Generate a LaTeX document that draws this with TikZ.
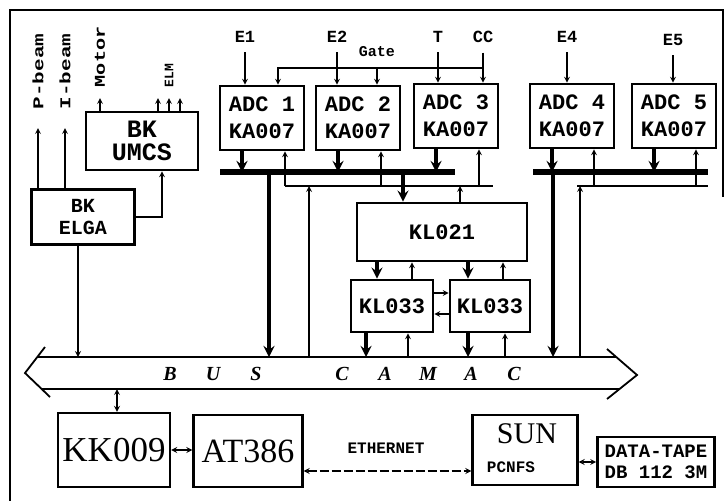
\documentclass[tikz,border=0pt]{standalone}
\usepackage{fontspec}
\setmainfont{Liberation Serif}
\setmonofont{Liberation Mono}
\usepackage{graphicx}
\begin{document}
\begin{tikzpicture}[x=1pt, y=-1pt,
	>=stealth,
	every path/.style={line width=1.6pt},
	unit/.style={draw, line width=2.6pt, inner sep=0, align=center,
		font=\ttfamily\bfseries\fontsize{22}{27}\selectfont},
	adc/.style={unit, minimum width=84pt, minimum height=64pt},
	pc/.style={draw, line width=2.4pt, inner sep=0,
		font=\fontsize{35}{35}\selectfont},
	lab/.style={inner sep=1pt, font=\ttfamily\bfseries\fontsize{17}{17}\selectfont},
	side/.style={inner sep=0, font=\ttfamily\bfseries\fontsize{15}{15}\selectfont},
	sig/.style={line width=1.6pt},
	fat/.style={line width=3.8pt},
	bar/.style={line width=5.5pt}]
	\useasboundingbox (0,0) rectangle (724,501);
	% frame
	\draw[line width=1.8pt] (10,501) -- (10,10) -- (723,10) -- (723,197);

	% beam control
	\node[unit, minimum width=103pt, minimum height=55pt,
		font=\ttfamily\bfseries\fontsize{20}{22}\selectfont] (elga) at (83,217) {BK\\ELGA};
	\node[unit, minimum width=112pt, minimum height=58pt,
		font=\ttfamily\bfseries\fontsize{25}{23}\selectfont] (umcs) at (142,141) {BK\\UMCS};
	\node[side, rotate=90, anchor=west] (pbeam) at (38,110) {\scalebox{1.4}[1]{P-beam}};
	\node[side, rotate=90, anchor=west] (ibeam) at (65,110) {\scalebox{1.4}[1]{I-beam}};
	\node[side, rotate=90, anchor=west] (motor) at (100,88) {\scalebox{1.35}[1]{Motor}};
	\node[side, rotate=90, anchor=west,
		font=\ttfamily\bfseries\fontsize{13}{13}\selectfont] (elm) at (169,88) {ELM};
	\coordinate (elmfoot) at (elm.west |- umcs.north);
	\draw[sig,->] (elga.north -| pbeam.west) -- ([yshift=-18pt]pbeam.west);
	\draw[sig,->] (elga.north -| ibeam.west) -- ([yshift=-18pt]ibeam.west);
	\draw[sig,->] (umcs.north -| motor.west) -- ([yshift=-10pt]motor.west);
	\foreach \dx in {-11,0,11}
		\draw[sig,->] ([xshift=\dx pt]elmfoot) -- ([xshift=\dx pt, yshift=-10pt]elm.west);
	\draw[sig,->] (elga.east) -| ([xshift=20pt]umcs.south);

	% ADC crate
	\node[adc] (adc1) at (262,118) {ADC 1\\KA007};
	\node[adc] (adc2) at (358,118) {ADC 2\\KA007};
	\node[adc] (adc3) at (456,116) {ADC 3\\KA007};
	\node[adc] (adc4) at (572,116) {ADC 4\\KA007};
	\node[adc] (adc5) at (674,116) {ADC 5\\KA007};
	\node[lab] (e1) at (245,37) {E1};
	\node[lab] (e2) at (337,37) {E2};
	\node[lab] (t) at (438,37) {T};
	\node[lab] (cc) at (483,37) {CC};
	\node[lab] (e4) at (567,37) {E4};
	\node[lab] (e5) at (673,40) {E5};
	\node[side] (gate) at (377,52) {Gate};
	\foreach \s/\d in {e1/adc1, e2/adc2, t/adc3, cc/adc3, e4/adc4, e5/adc5}
		\draw[sig,->] ([yshift=-8pt]\s.south) -- (\s.south |- \d.north);
	\coordinate (gatebus) at (483,68);
	\draw[sig,->] (gatebus) -| ([xshift=16pt]adc1.north);
	\draw[sig,->] (gatebus -| gate) -- (gate |- adc2.north);

	\coordinate (barA) at (220,172);
	\coordinate (barAe) at (455,172);
	\coordinate (lineA) at (285,186);
	\coordinate (lineAe) at (493,186);
	\coordinate (barB) at (533,172);
	\coordinate (barBe) at (708,172);
	\coordinate (lineB) at (577,186);
	\coordinate (lineBe) at (708,186);
	\coordinate (tapA) at (269,172);
	\coordinate (tapA2) at (309,186);
	\coordinate (tapB) at (553,172);
	\coordinate (tapB2) at (580,186);
	\coordinate (busT) at (330,357);
	\coordinate (busB) at (330,389);
	\draw[bar] (barA) -- (barAe);
	\draw[sig] (lineA) -- (lineAe);
	\draw[bar] (barB) -- (barBe);
	\draw[sig] (lineB) -- (lineBe);
	\foreach \a in {adc1,adc2,adc3} {
		\draw[fat,->] ([xshift=-20pt]\a.south) -- ([xshift=-20pt]\a.south |- barA);
		\draw[sig,->] ([xshift=23pt]\a.south |- lineA) -- ([xshift=23pt]\a.south);
	}
	\foreach \a in {adc4,adc5} {
		\draw[fat,->] ([xshift=-20pt]\a.south) -- ([xshift=-20pt]\a.south |- barB);
		\draw[sig,->] ([xshift=22pt]\a.south |- lineB) -- ([xshift=22pt]\a.south);
	}
	\draw[fat,->] (tapA) -- (tapA |- busT);
	\draw[sig,->] (tapA2 |- busT) -- (tapA2);
	\draw[fat,->] (tapB) -- (tapB |- busT);
	\draw[sig,->] (tapB2 |- busT) -- (tapB2);

	% list processor
	\node[unit, minimum width=170pt, minimum height=58pt] (kl021) at (442,232) {KL021};
	\node[unit, minimum width=82pt, minimum height=52pt] (kl033a) at (392,306) {KL033};
	\node[unit, minimum width=80pt, minimum height=52pt] (kl033b) at (490,306) {KL033};
	\draw[fat,->] ([xshift=-39pt]kl021.north |- barA) -- ([xshift=-39pt]kl021.north);
	\draw[sig,->] ([xshift=18pt]kl021.north) -- ([xshift=18pt]kl021.north |- lineA);
	\foreach \k/\l/\r in {kl033a/-15/20, kl033b/-22/13} {
		\draw[fat,->] ([xshift=\l pt]\k.north |- kl021.south) -- ([xshift=\l pt]\k.north);
		\draw[sig,->] ([xshift=\r pt]\k.north) -- ([xshift=\r pt]\k.north |- kl021.south);
	}
	\foreach \k/\l/\r in {kl033a/-26/16, kl033b/-22/15} {
		\draw[fat,->] ([xshift=\l pt]\k.south) -- ([xshift=\l pt]\k.south |- busT);
		\draw[sig,->] ([xshift=\r pt]\k.south |- busT) -- ([xshift=\r pt]\k.south);
	}
	\draw[sig,->] ([yshift=13pt]kl033a.east) -- ([yshift=13pt]kl033a.east -| kl033b.west);
	\draw[sig,->] ([yshift=-8pt]kl033a.east -| kl033b.west) -- ([yshift=-8pt]kl033a.east);

	% bus
	\draw[line width=1.8pt] (45,347) -- (25,373) -- (50,397);
	\draw[line width=1.8pt] (607,349) -- (637,375) -- (607,399);
	\draw[line width=1.8pt] (37,357) -- (616,357);
	\draw[line width=1.8pt] (42,389) -- (619,389);
	\node[inner sep=0, font=\bfseries\itshape\fontsize{20}{20}\selectfont] (busname) at (342,374)
		{\makebox[43pt]{B}\makebox[43pt]{U}\makebox[43pt]{S}\makebox[43pt]{}\makebox[43pt]{C}%
		\makebox[43pt]{A}\makebox[43pt]{M}\makebox[43pt]{A}\makebox[43pt]{C}};
	\draw[sig,->] ([xshift=-5pt]elga.south) -- ([xshift=-5pt]elga.south |- busT);

	% computers
	\node[pc, minimum width=112pt, minimum height=74pt] (kk009) at (114,450) {KK009};
	\node[pc, minimum width=109pt, minimum height=72pt,
		font=\fontsize{34}{34}\selectfont] (at386) at (248,451) {AT386};
	\node[pc, minimum width=105pt, minimum height=70pt] (sun) at (525,450) {};
	\node[inner sep=0, font=\fontsize{30}{30}\selectfont] (suntext) at (527,434) {SUN};
	\node[side, font=\ttfamily\bfseries\fontsize{16}{16}\selectfont] (pcnfs) at (511,467) {PCNFS};
	\node[draw, line width=2.6pt, minimum width=117pt, minimum height=50pt, inner sep=0,
		align=center, font=\ttfamily\bfseries\fontsize{19}{21}\selectfont] (tape) at (656,462)
		{DATA-TAPE\\DB 112 3M};
	\node[side, font=\ttfamily\bfseries\fontsize{16}{16}\selectfont] (ether) at (386,448) {ETHERNET};
	\draw[sig,<->] ([xshift=3pt]kk009.north) -- ([xshift=3pt]kk009.north |- busB);
	\draw[sig,<->] (kk009.east) -- (kk009.east -| at386.west);
	\draw[sig,dash pattern=on 9pt off 3pt,<->] ([yshift=-20pt]at386.east) -- ([yshift=-20pt]at386.east -| sun.west);
	\draw[sig,<->] (sun.east |- tape.west) -- (tape.west);
\end{tikzpicture}
\end{document}
